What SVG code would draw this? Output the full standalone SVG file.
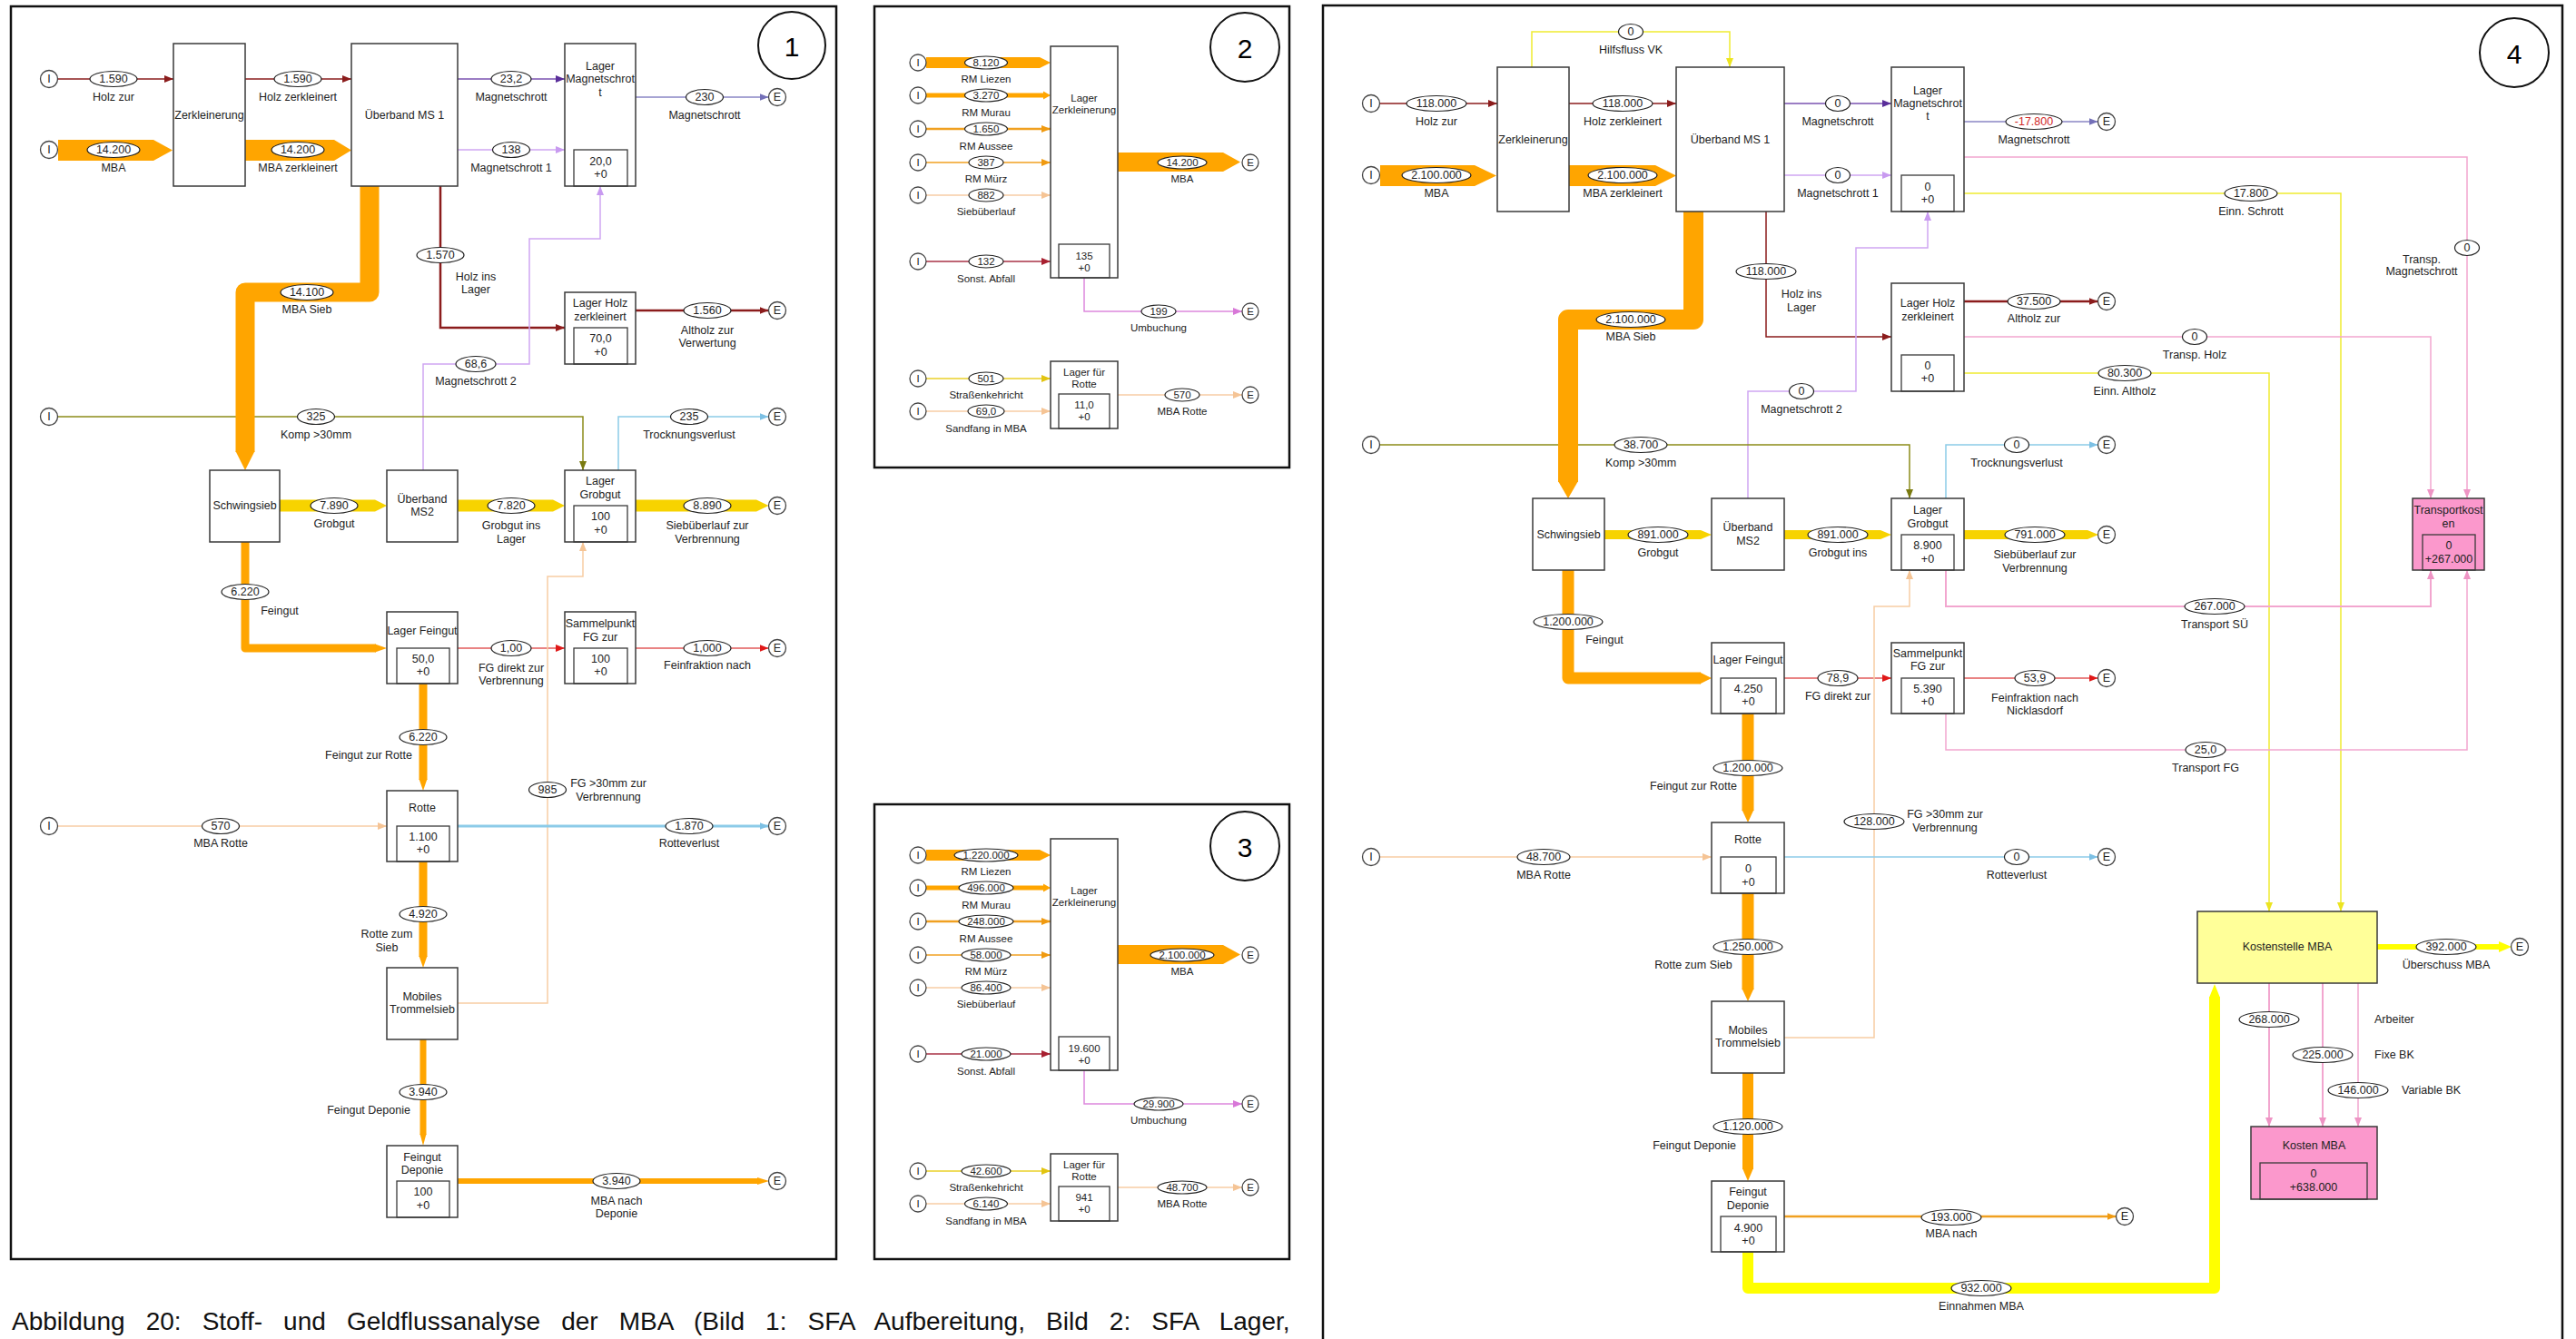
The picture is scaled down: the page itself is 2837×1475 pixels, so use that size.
<svg xmlns="http://www.w3.org/2000/svg" width="2837" height="1475" viewBox="0 0 2837 1475">
<style>
text{font-family:"Liberation Sans",Arial,sans-serif;fill:#222;text-anchor:middle;dominant-baseline:central}
.t{font-size:12.5px}
.s{font-size:11.5px}
.st{text-anchor:start}
.num{font-size:30px;fill:#000}
.cap{font-size:28px;text-anchor:start;dominant-baseline:auto;fill:#111;word-spacing:15.3px}
.frame{fill:none;stroke:#111;stroke-width:2.5}
.circ{fill:none;stroke:#111;stroke-width:2}
.box{fill:#fff;stroke:#3a3a3a;stroke-width:1.5}
.ybox{fill:#ffff99;stroke:#3a3a3a;stroke-width:1.5}
.pbox{fill:#fb98cc;stroke:#3a3a3a;stroke-width:1.5}
.in{fill:none;stroke:#3a3a3a;stroke-width:1.3}
.el{fill:#fff;stroke:#222;stroke-width:1.2}
.io{fill:#fff;stroke:#444;stroke-width:1.3}
.l{fill:none;stroke-width:1.5}
.dr{stroke:#8b1c1c}.pu{stroke:#7a52b0}.vi{stroke:#cfa6f2}.gb{stroke:#8a86c4}.ol{stroke:#8c8c1a}
.lb{stroke:#8ccbe8}.rd{stroke:#e25a5a}.pe{stroke:#f7cda4}.pk{stroke:#f2a6cf}.ye{stroke:#f0ec30}
.um{stroke:#dd88dd}.sy{stroke:#ead028}.sa{stroke:#a83246}.or{stroke:#f0a020}
.bo{fill:#ffa500}.bg{fill:#f7d300}.byl{fill:#ffff00}
.so{fill:none;stroke:#ffa500;stroke-linejoin:round}
.sy2{fill:none;stroke:#ffff00;stroke-linejoin:round}
</style>
<defs>
<marker id="a-dr" viewBox="0 0 10 8" refX="10" refY="4" markerWidth="10" markerHeight="8" markerUnits="userSpaceOnUse" orient="auto"><path d="M0,0L10,4L0,8z" fill="#8b1c1c"/></marker>
<marker id="a-pu" viewBox="0 0 10 8" refX="10" refY="4" markerWidth="10" markerHeight="8" markerUnits="userSpaceOnUse" orient="auto"><path d="M0,0L10,4L0,8z" fill="#5a2e9a"/></marker>
<marker id="a-vi" viewBox="0 0 10 8" refX="10" refY="4" markerWidth="10" markerHeight="8" markerUnits="userSpaceOnUse" orient="auto"><path d="M0,0L10,4L0,8z" fill="#c89af0"/></marker>
<marker id="a-gb" viewBox="0 0 10 8" refX="10" refY="4" markerWidth="10" markerHeight="8" markerUnits="userSpaceOnUse" orient="auto"><path d="M0,0L10,4L0,8z" fill="#7470b8"/></marker>
<marker id="a-ol" viewBox="0 0 10 8" refX="10" refY="4" markerWidth="10" markerHeight="8" markerUnits="userSpaceOnUse" orient="auto"><path d="M0,0L10,4L0,8z" fill="#7a7a10"/></marker>
<marker id="a-lb" viewBox="0 0 10 8" refX="10" refY="4" markerWidth="10" markerHeight="8" markerUnits="userSpaceOnUse" orient="auto"><path d="M0,0L10,4L0,8z" fill="#7cc0e4"/></marker>
<marker id="a-rd" viewBox="0 0 10 8" refX="10" refY="4" markerWidth="10" markerHeight="8" markerUnits="userSpaceOnUse" orient="auto"><path d="M0,0L10,4L0,8z" fill="#e01818"/></marker>
<marker id="a-pe" viewBox="0 0 10 8" refX="10" refY="4" markerWidth="10" markerHeight="8" markerUnits="userSpaceOnUse" orient="auto"><path d="M0,0L10,4L0,8z" fill="#f5c495"/></marker>
<marker id="a-pk" viewBox="0 0 10 8" refX="10" refY="4" markerWidth="10" markerHeight="8" markerUnits="userSpaceOnUse" orient="auto"><path d="M0,0L10,4L0,8z" fill="#ee94c4"/></marker>
<marker id="a-ye" viewBox="0 0 10 8" refX="10" refY="4" markerWidth="10" markerHeight="8" markerUnits="userSpaceOnUse" orient="auto"><path d="M0,0L10,4L0,8z" fill="#ece420"/></marker>
<marker id="a-um" viewBox="0 0 10 8" refX="10" refY="4" markerWidth="10" markerHeight="8" markerUnits="userSpaceOnUse" orient="auto"><path d="M0,0L10,4L0,8z" fill="#d878d8"/></marker>
<marker id="a-sy" viewBox="0 0 10 8" refX="10" refY="4" markerWidth="10" markerHeight="8" markerUnits="userSpaceOnUse" orient="auto"><path d="M0,0L10,4L0,8z" fill="#e2c410"/></marker>
<marker id="a-sa" viewBox="0 0 10 8" refX="10" refY="4" markerWidth="10" markerHeight="8" markerUnits="userSpaceOnUse" orient="auto"><path d="M0,0L10,4L0,8z" fill="#a82030"/></marker>
<marker id="a-or" viewBox="0 0 10 8" refX="10" refY="4" markerWidth="10" markerHeight="8" markerUnits="userSpaceOnUse" orient="auto"><path d="M0,0L10,4L0,8z" fill="#f09a10"/></marker>
</defs>
<rect width="2837" height="1475" fill="#fff"/>

<!-- frames -->
<rect class="frame" x="12" y="7" width="909" height="1380"/>
<rect class="frame" x="963" y="7" width="457" height="508"/>
<rect class="frame" x="963" y="886" width="457" height="501"/>
<path class="frame" d="M1457,1476V6H2822V1476"/>
<circle class="circ" cx="872" cy="50" r="37"/><text class="num" x="872" y="51">1</text>
<circle class="circ" cx="1371" cy="52" r="38"/><text class="num" x="1371" y="53">2</text>
<circle class="circ" cx="1371" cy="932" r="38"/><text class="num" x="1371" y="933">3</text>
<circle class="circ" cx="2769" cy="58" r="38"/><text class="num" x="2769" y="59">4</text>
<text class="cap" x="13" y="1465">Abbildung 20: Stoff- und Geldflussanalyse der MBA (Bild 1: SFA Aufbereitung, Bild 2: SFA Lager,</text>

<g id="connectors">
<!-- ===== Panel 1 thin lines ===== -->
<g class="lines">
<path class="l dr" d="M63.5,87H191" marker-end="url(#a-dr)"/>
<path class="l dr" d="M270,87H387" marker-end="url(#a-dr)"/>
<path class="l pu" d="M504,87H622" marker-end="url(#a-pu)"/>
<path class="l vi" d="M504,165H622" marker-end="url(#a-vi)"/>
<path class="l gb" d="M700,107H846.5" marker-end="url(#a-gb)"/>
<path class="l dr" style="stroke-width:2.5" d="M485,205V361H622" marker-end="url(#a-dr)"/>
<path class="l dr" style="stroke-width:2.5" d="M700,342H846.5" marker-end="url(#a-dr)"/>
<path class="l vi" d="M466,518V401H583V263H661V205" marker-end="url(#a-vi)"/>
<path class="l ol" d="M63.5,459H642V518" marker-end="url(#a-ol)"/>
<path class="l lb" d="M681,518V459H846.5" marker-end="url(#a-lb)"/>
<path class="l rd" d="M504,714H622" marker-end="url(#a-rd)"/>
<path class="l rd" d="M700,714H846.5" marker-end="url(#a-rd)"/>
<path class="l pe" d="M504,1105H603V635H642V597" marker-end="url(#a-pe)"/>
<path class="l pe" d="M63.5,910H426" marker-end="url(#a-pe)"/>
<path class="l lb" style="stroke-width:3" d="M504,910H846.5" marker-end="url(#a-lb)"/>
</g>
<!-- Panel 1 bands -->
<g class="bands">
<polygon class="bo" points="64,154 169,154 190,165.5 169,177 64,177"/>
<polygon class="bo" points="270,154 368,154 387,165.5 368,177 270,177"/>
<path class="so" style="stroke-width:21" d="M407,205V322H270V498"/>
<polygon class="bo" points="259.5,497 280.5,497 270,518"/>
<polygon class="bg" points="308,550.5 413,550.5 426,557 413,563.5 308,563.5"/>
<polygon class="bg" points="504,550.5 609,550.5 622,557 609,563.5 504,563.5"/>
<polygon class="bg" points="700,550.5 833,550.5 846.5,557 833,563.5 700,563.5"/>
<path class="so" style="stroke-width:9" d="M270,597V714H414"/>
<polygon class="bo" points="413,709.5 426,714 413,718.5"/>
<path class="so" style="stroke-width:9" d="M466,753V859"/>
<polygon class="bo" points="461.5,858 470.5,858 466,871"/>
<path class="so" style="stroke-width:9" d="M466,949V1054"/>
<polygon class="bo" points="461.5,1053 470.5,1053 466,1066"/>
<path class="so" style="stroke-width:7" d="M466,1145V1250"/>
<polygon class="bo" points="462.5,1249 469.5,1249 466,1262"/>
<polygon class="bo" points="504,1298 834,1298 834,1297 847,1301 834,1305 834,1304 504,1304"/>
</g>
<!-- Panel 1 labels -->
<g class="labels">
<ellipse class="el" cx="125" cy="87" rx="26" ry="8.5"/><text class="t" x="125" y="87">1.590</text><text class="t" x="125" y="107">Holz zur</text>
<ellipse class="el" cx="328" cy="87" rx="26" ry="8.5"/><text class="t" x="328" y="87">1.590</text><text class="t" x="328" y="107">Holz zerkleinert</text>
<ellipse class="el" cx="125" cy="165" rx="29" ry="8.5"/><text class="t" x="125" y="165">14.200</text><text class="t" x="125" y="185">MBA</text>
<ellipse class="el" cx="328" cy="165" rx="29" ry="8.5"/><text class="t" x="328" y="165">14.200</text><text class="t" x="328" y="185">MBA zerkleinert</text>
<ellipse class="el" cx="563" cy="87" rx="22" ry="8.5"/><text class="t" x="563" y="87">23,2</text><text class="t" x="563" y="107">Magnetschrott</text>
<ellipse class="el" cx="563" cy="165" rx="20.5" ry="8.5"/><text class="t" x="563" y="165">138</text><text class="t" x="563" y="185">Magnetschrott 1</text>
<ellipse class="el" cx="776" cy="107" rx="20.5" ry="8.5"/><text class="t" x="776" y="107">230</text><text class="t" x="776" y="127">Magnetschrott</text>
<ellipse class="el" cx="485" cy="281" rx="26" ry="8.5"/><text class="t" x="485" y="281">1.570</text><text class="t" x="524" y="305">Holz ins</text><text class="t" x="524" y="319">Lager</text>
<ellipse class="el" cx="779" cy="342" rx="26" ry="8.5"/><text class="t" x="779" y="342">1.560</text><text class="t" x="779" y="364">Altholz zur</text><text class="t" x="779" y="378">Verwertung</text>
<ellipse class="el" cx="338" cy="322" rx="29" ry="8.5"/><text class="t" x="338" y="322">14.100</text><text class="t" x="338" y="341">MBA Sieb</text>
<ellipse class="el" cx="524" cy="401" rx="22" ry="8.5"/><text class="t" x="524" y="401">68,6</text><text class="t" x="524" y="420">Magnetschrott 2</text>
<ellipse class="el" cx="348" cy="459" rx="20.5" ry="8.5"/><text class="t" x="348" y="459">325</text><text class="t" x="348" y="479">Komp &gt;30mm</text>
<ellipse class="el" cx="759" cy="459" rx="20.5" ry="8.5"/><text class="t" x="759" y="459">235</text><text class="t" x="759" y="479">Trocknungsverlust</text>
<ellipse class="el" cx="368" cy="557" rx="26" ry="8.5"/><text class="t" x="368" y="557">7.890</text><text class="t" x="368" y="577">Grobgut</text>
<ellipse class="el" cx="563" cy="557" rx="26" ry="8.5"/><text class="t" x="563" y="557">7.820</text><text class="t" x="563" y="579">Grobgut ins</text><text class="t" x="563" y="594">Lager</text>
<ellipse class="el" cx="779" cy="557" rx="26" ry="8.5"/><text class="t" x="779" y="557">8.890</text><text class="t" x="779" y="579">Siebüberlauf zur</text><text class="t" x="779" y="594">Verbrennung</text>
<ellipse class="el" cx="270" cy="652" rx="26" ry="8.5"/><text class="t" x="270" y="652">6.220</text><text class="t" x="308" y="673">Feingut</text>
<ellipse class="el" cx="563" cy="714" rx="22" ry="8.5"/><text class="t" x="563" y="714">1,00</text><text class="t" x="563" y="736">FG direkt zur</text><text class="t" x="563" y="750">Verbrennung</text>
<ellipse class="el" cx="779" cy="714" rx="26" ry="8.5"/><text class="t" x="779" y="714">1,000</text><text class="t" x="779" y="733">Feinfraktion nach</text>
<ellipse class="el" cx="466" cy="812" rx="26" ry="8.5"/><text class="t" x="466" y="812">6.220</text><text class="t" x="406" y="832">Feingut zur Rotte</text>
<ellipse class="el" cx="603" cy="870" rx="20.5" ry="8.5"/><text class="t" x="603" y="870">985</text><text class="t" x="670" y="863">FG &gt;30mm zur</text><text class="t" x="670" y="878">Verbrennung</text>
<ellipse class="el" cx="243" cy="910" rx="20.5" ry="8.5"/><text class="t" x="243" y="910">570</text><text class="t" x="243" y="929">MBA Rotte</text>
<ellipse class="el" cx="759" cy="910" rx="26" ry="8.5"/><text class="t" x="759" y="910">1.870</text><text class="t" x="759" y="929">Rotteverlust</text>
<ellipse class="el" cx="466" cy="1007" rx="26" ry="8.5"/><text class="t" x="466" y="1007">4.920</text><text class="t" x="426" y="1029">Rotte zum</text><text class="t" x="426" y="1044">Sieb</text>
<ellipse class="el" cx="466" cy="1203" rx="26" ry="8.5"/><text class="t" x="466" y="1203">3.940</text><text class="t" x="406" y="1223">Feingut Deponie</text>
<ellipse class="el" cx="679" cy="1301" rx="26" ry="8.5"/><text class="t" x="679" y="1301">3.940</text><text class="t" x="679" y="1323">MBA nach</text><text class="t" x="679" y="1337">Deponie</text>
</g>

<!-- ===== Panel 2 ===== -->
<g class="lines">
<polygon class="bo" points="1020,63 1145,63 1157,69 1145,75 1020,75"/>
<path class="l" style="stroke:#ffa500;stroke-width:5" d="M1020,105H1149"/><polygon class="bo" points="1149,100.5 1157,105 1149,109.5"/>
<path class="l or" style="stroke-width:2.5" d="M1020,142H1157" marker-end="url(#a-or)"/>
<path class="l or" d="M1020,179H1157" marker-end="url(#a-or)"/>
<path class="l pe" d="M1020,215H1157" marker-end="url(#a-pe)"/>
<path class="l sa" d="M1020,288H1157" marker-end="url(#a-sa)"/>
<polygon class="bo" points="1231,168 1347,168 1366,178.5 1347,189 1231,189"/>
<path class="l um" d="M1194,306V343H1368" marker-end="url(#a-um)"/>
<path class="l sy" d="M1020,417H1157" marker-end="url(#a-sy)"/>
<path class="l pe" d="M1020,453H1157" marker-end="url(#a-pe)"/>
<path class="l pe" d="M1231,435H1368" marker-end="url(#a-pe)"/>
</g>
<g class="labels">
<ellipse class="el" cx="1086" cy="69" rx="23.5" ry="7"/><text class="s" x="1086" y="69">8.120</text><text class="s" x="1086" y="87">RM Liezen</text>
<ellipse class="el" cx="1086" cy="105" rx="23.5" ry="7"/><text class="s" x="1086" y="105">3.270</text><text class="s" x="1086" y="124">RM Murau</text>
<ellipse class="el" cx="1086" cy="142" rx="23.5" ry="7"/><text class="s" x="1086" y="142">1.650</text><text class="s" x="1086" y="161">RM Aussee</text>
<ellipse class="el" cx="1086" cy="179" rx="19" ry="7"/><text class="s" x="1086" y="179">387</text><text class="s" x="1086" y="197">RM Mürz</text>
<ellipse class="el" cx="1086" cy="215" rx="19" ry="7"/><text class="s" x="1086" y="215">882</text><text class="s" x="1086" y="233">Siebüberlauf</text>
<ellipse class="el" cx="1086" cy="288" rx="19" ry="7"/><text class="s" x="1086" y="288">132</text><text class="s" x="1086" y="307">Sonst. Abfall</text>
<ellipse class="el" cx="1302" cy="179" rx="27" ry="7"/><text class="s" x="1302" y="179">14.200</text><text class="s" x="1302" y="197">MBA</text>
<ellipse class="el" cx="1276" cy="343" rx="19" ry="7"/><text class="s" x="1276" y="343">199</text><text class="s" x="1276" y="361">Umbuchung</text>
<ellipse class="el" cx="1086" cy="417" rx="19" ry="7"/><text class="s" x="1086" y="417">501</text><text class="s" x="1086" y="435">Straßenkehricht</text>
<ellipse class="el" cx="1086" cy="453" rx="20" ry="7"/><text class="s" x="1086" y="453">69,0</text><text class="s" x="1086" y="472">Sandfang in MBA</text>
<ellipse class="el" cx="1302" cy="435" rx="19" ry="7"/><text class="s" x="1302" y="435">570</text><text class="s" x="1302" y="453">MBA Rotte</text>
</g>

<!-- ===== Panel 3 ===== -->
<g class="lines" transform="translate(0,873)">
<polygon class="bo" points="1020,63 1145,63 1157,69 1145,75 1020,75"/>
<path class="l" style="stroke:#ffa500;stroke-width:5" d="M1020,105H1149"/><polygon class="bo" points="1149,100.5 1157,105 1149,109.5"/>
<path class="l or" style="stroke-width:2.5" d="M1020,142H1157" marker-end="url(#a-or)"/>
<path class="l or" d="M1020,179H1157" marker-end="url(#a-or)"/>
<path class="l pe" d="M1020,215H1157" marker-end="url(#a-pe)"/>
<path class="l sa" d="M1020,288H1157" marker-end="url(#a-sa)"/>
<polygon class="bo" points="1231,168 1347,168 1366,178.5 1347,189 1231,189"/>
<path class="l um" d="M1194,306V343H1368" marker-end="url(#a-um)"/>
<path class="l sy" d="M1020,417H1157" marker-end="url(#a-sy)"/>
<path class="l pe" d="M1020,453H1157" marker-end="url(#a-pe)"/>
<path class="l pe" d="M1231,435H1368" marker-end="url(#a-pe)"/>
</g>
<g class="labels" transform="translate(0,873)">
<ellipse class="el" cx="1086" cy="69" rx="35" ry="7"/><text class="s" x="1086" y="69">1.220.000</text><text class="s" x="1086" y="87">RM Liezen</text>
<ellipse class="el" cx="1086" cy="105" rx="30" ry="7"/><text class="s" x="1086" y="105">496.000</text><text class="s" x="1086" y="124">RM Murau</text>
<ellipse class="el" cx="1086" cy="142" rx="30" ry="7"/><text class="s" x="1086" y="142">248.000</text><text class="s" x="1086" y="161">RM Aussee</text>
<ellipse class="el" cx="1086" cy="179" rx="27" ry="7"/><text class="s" x="1086" y="179">58.000</text><text class="s" x="1086" y="197">RM Mürz</text>
<ellipse class="el" cx="1086" cy="215" rx="27" ry="7"/><text class="s" x="1086" y="215">86.400</text><text class="s" x="1086" y="233">Siebüberlauf</text>
<ellipse class="el" cx="1086" cy="288" rx="27" ry="7"/><text class="s" x="1086" y="288">21.000</text><text class="s" x="1086" y="307">Sonst. Abfall</text>
<ellipse class="el" cx="1302" cy="179" rx="35" ry="7"/><text class="s" x="1302" y="179">2.100.000</text><text class="s" x="1302" y="197">MBA</text>
<ellipse class="el" cx="1276" cy="343" rx="27" ry="7"/><text class="s" x="1276" y="343">29.900</text><text class="s" x="1276" y="361">Umbuchung</text>
<ellipse class="el" cx="1086" cy="417" rx="27" ry="7"/><text class="s" x="1086" y="417">42.600</text><text class="s" x="1086" y="435">Straßenkehricht</text>
<ellipse class="el" cx="1086" cy="453" rx="23.5" ry="7"/><text class="s" x="1086" y="453">6.140</text><text class="s" x="1086" y="472">Sandfang in MBA</text>
<ellipse class="el" cx="1302" cy="435" rx="27" ry="7"/><text class="s" x="1302" y="435">48.700</text><text class="s" x="1302" y="453">MBA Rotte</text>
</g>

<!-- ===== Panel 4 thin lines ===== -->
<g class="lines">
<path class="l dr" d="M1519.5,114H1649" marker-end="url(#a-dr)"/>
<path class="l dr" d="M1728,114H1846" marker-end="url(#a-dr)"/>
<path class="l ye" d="M1687,74V35H1905V74" marker-end="url(#a-ye)"/>
<path class="l pu" d="M1965,114H2083" marker-end="url(#a-pu)"/>
<path class="l vi" d="M1965,193H2083" marker-end="url(#a-vi)"/>
<path class="l gb" d="M2163,134H2310.5" marker-end="url(#a-gb)"/>
<path class="l pk" d="M2163,173H2717V549" marker-end="url(#a-pk)"/>
<path class="l ye" d="M2163,213H2578V1004" marker-end="url(#a-ye)"/>
<path class="l dr" d="M1945,233V371H2083" marker-end="url(#a-dr)"/>
<path class="l vi" d="M1925,549V431H2044V273H2123V233" marker-end="url(#a-vi)"/>
<path class="l dr" style="stroke-width:2.5" d="M2163,332H2310.5" marker-end="url(#a-dr)"/>
<path class="l pk" d="M2163,371H2677V549" marker-end="url(#a-pk)"/>
<path class="l ye" d="M2163,411H2499V1004" marker-end="url(#a-ye)"/>
<path class="l ol" d="M1519.5,490H2103V549" marker-end="url(#a-ol)"/>
<path class="l lb" d="M2143,549V490H2310.5" marker-end="url(#a-lb)"/>
<path class="l pk" style="stroke-width:2" d="M2143,628V668H2677V628" marker-end="url(#a-pk)"/>
<path class="l rd" d="M1965,747H2083" marker-end="url(#a-rd)"/>
<path class="l rd" d="M2163,747H2310.5" marker-end="url(#a-rd)"/>
<path class="l pk" d="M2143,786V826H2717V628" marker-end="url(#a-pk)"/>
<path class="l pe" d="M1965,1143H2064V668H2103V628" marker-end="url(#a-pe)"/>
<path class="l pe" d="M1519.5,944H1885" marker-end="url(#a-pe)"/>
<path class="l lb" d="M1965,944H2310.5" marker-end="url(#a-lb)"/>
<path class="l or" style="stroke-width:2.5" d="M1965,1340H2330.5" marker-end="url(#a-or)"/>
<path class="l pk" style="stroke-width:2" d="M2499,1083V1241" marker-end="url(#a-pk)"/>
<path class="l pk" style="stroke-width:2" d="M2558,1083V1241" marker-end="url(#a-pk)"/>
<path class="l pk" d="M2597,1083V1241" marker-end="url(#a-pk)"/>
</g>
<g class="bands">
<polygon class="bo" points="1520,182 1624,182 1648,193.5 1624,205 1520,205"/>
<polygon class="bo" points="1728,182 1823,182 1846,193.5 1823,205 1728,205"/>
<path class="so" style="stroke-width:22" d="M1865,233V352H1727V531"/>
<polygon class="bo" points="1716,530 1738,530 1727,549"/>
<polygon class="bg" points="1767,584 1873,584 1885,589 1873,594 1767,594"/>
<polygon class="bg" points="1965,584 2071,584 2083,589 2071,594 1965,594"/>
<polygon class="bg" points="2163,584 2299,584 2311,589 2299,594 2163,594"/>
<path class="so" style="stroke-width:13" d="M1727,628V747H1873"/>
<polygon class="bo" points="1872,740.5 1885,747 1872,753.5"/>
<path class="so" style="stroke-width:13" d="M1925,786V893"/>
<polygon class="bo" points="1918.5,892 1931.5,892 1925,906"/>
<path class="so" style="stroke-width:13" d="M1925,984V1090"/>
<polygon class="bo" points="1918.5,1089 1931.5,1089 1925,1103"/>
<path class="so" style="stroke-width:12" d="M1925,1182V1288"/>
<polygon class="bo" points="1919,1287 1931,1287 1925,1301"/>
<path class="sy2" style="stroke-width:12" d="M1925,1379V1419H2439V1098"/>
<polygon class="byl" points="2433,1099 2445,1099 2439,1084"/>
<polygon class="byl" points="2618,1040 2752,1040 2752,1037 2766,1043 2752,1049 2752,1046 2618,1046"/>
</g>
<g class="labels">
<ellipse class="el" cx="1582" cy="114" rx="33" ry="8.5"/><text class="t" x="1582" y="114">118.000</text><text class="t" x="1582" y="134">Holz zur</text>
<ellipse class="el" cx="1787" cy="114" rx="33" ry="8.5"/><text class="t" x="1787" y="114">118.000</text><text class="t" x="1787" y="134">Holz zerkleinert</text>
<ellipse class="el" cx="1582" cy="193" rx="38" ry="8.5"/><text class="t" x="1582" y="193">2.100.000</text><text class="t" x="1582" y="213">MBA</text>
<ellipse class="el" cx="1787" cy="193" rx="38" ry="8.5"/><text class="t" x="1787" y="193">2.100.000</text><text class="t" x="1787" y="213">MBA zerkleinert</text>
<ellipse class="el" cx="1796" cy="35" rx="13.5" ry="8.5"/><text class="t" x="1796" y="35">0</text><text class="t" x="1796" y="55">Hilfsfluss VK</text>
<ellipse class="el" cx="2024" cy="114" rx="13.5" ry="8.5"/><text class="t" x="2024" y="114">0</text><text class="t" x="2024" y="134">Magnetschrott</text>
<ellipse class="el" cx="2024" cy="193" rx="13.5" ry="8.5"/><text class="t" x="2024" y="193">0</text><text class="t" x="2024" y="213">Magnetschrott 1</text>
<ellipse class="el" cx="2240" cy="134" rx="31" ry="8.5"/><text class="t" x="2240" y="134" style="fill:#d02828">-17.800</text><text class="t" x="2240" y="154">Magnetschrott</text>
<ellipse class="el" cx="2717" cy="273" rx="13.5" ry="8.5"/><text class="t" x="2717" y="273">0</text><text class="t" x="2667" y="286">Transp.</text><text class="t" x="2667" y="299">Magnetschrott</text>
<ellipse class="el" cx="2479" cy="213" rx="29" ry="8.5"/><text class="t" x="2479" y="213">17.800</text><text class="t" x="2479" y="233">Einn. Schrott</text>
<ellipse class="el" cx="1945" cy="299" rx="33" ry="8.5"/><text class="t" x="1945" y="299">118.000</text><text class="t" x="1984" y="324">Holz ins</text><text class="t" x="1984" y="339">Lager</text>
<ellipse class="el" cx="1796" cy="352" rx="38" ry="8.5"/><text class="t" x="1796" y="352">2.100.000</text><text class="t" x="1796" y="371">MBA Sieb</text>
<ellipse class="el" cx="1984" cy="431" rx="13.5" ry="8.5"/><text class="t" x="1984" y="431">0</text><text class="t" x="1984" y="451">Magnetschrott 2</text>
<ellipse class="el" cx="2240" cy="332" rx="29" ry="8.5"/><text class="t" x="2240" y="332">37.500</text><text class="t" x="2240" y="351">Altholz zur</text>
<ellipse class="el" cx="2417" cy="371" rx="13.5" ry="8.5"/><text class="t" x="2417" y="371">0</text><text class="t" x="2417" y="391">Transp. Holz</text>
<ellipse class="el" cx="2340" cy="411" rx="29" ry="8.5"/><text class="t" x="2340" y="411">80.300</text><text class="t" x="2340" y="431">Einn. Altholz</text>
<ellipse class="el" cx="1807" cy="490" rx="29" ry="8.5"/><text class="t" x="1807" y="490">38.700</text><text class="t" x="1807" y="510">Komp &gt;30mm</text>
<ellipse class="el" cx="2221" cy="490" rx="13.5" ry="8.5"/><text class="t" x="2221" y="490">0</text><text class="t" x="2221" y="510">Trocknungsverlust</text>
<ellipse class="el" cx="1826" cy="589" rx="33" ry="8.5"/><text class="t" x="1826" y="589">891.000</text><text class="t" x="1826" y="609">Grobgut</text>
<ellipse class="el" cx="2024" cy="589" rx="33" ry="8.5"/><text class="t" x="2024" y="589">891.000</text><text class="t" x="2024" y="609">Grobgut ins</text>
<ellipse class="el" cx="2241" cy="589" rx="33" ry="8.5"/><text class="t" x="2241" y="589">791.000</text><text class="t" x="2241" y="611">Siebüberlauf zur</text><text class="t" x="2241" y="626">Verbrennung</text>
<ellipse class="el" cx="2439" cy="668" rx="33" ry="8.5"/><text class="t" x="2439" y="668">267.000</text><text class="t" x="2439" y="688">Transport SÜ</text>
<ellipse class="el" cx="1727" cy="685" rx="38" ry="8.5"/><text class="t" x="1727" y="685">1.200.000</text><text class="t" x="1767" y="705">Feingut</text>
<ellipse class="el" cx="2024" cy="747" rx="22" ry="8.5"/><text class="t" x="2024" y="747">78,9</text><text class="t" x="2024" y="767">FG direkt zur</text>
<ellipse class="el" cx="2241" cy="747" rx="22" ry="8.5"/><text class="t" x="2241" y="747">53,9</text><text class="t" x="2241" y="769">Feinfraktion nach</text><text class="t" x="2241" y="783">Nicklasdorf</text>
<ellipse class="el" cx="2429" cy="826" rx="22" ry="8.5"/><text class="t" x="2429" y="826">25,0</text><text class="t" x="2429" y="846">Transport FG</text>
<ellipse class="el" cx="1925" cy="846" rx="38" ry="8.5"/><text class="t" x="1925" y="846">1.200.000</text><text class="t" x="1865" y="866">Feingut zur Rotte</text>
<ellipse class="el" cx="2064" cy="905" rx="33" ry="8.5"/><text class="t" x="2064" y="905">128.000</text><text class="t" x="2142" y="897">FG &gt;30mm zur</text><text class="t" x="2142" y="912">Verbrennung</text>
<ellipse class="el" cx="1700" cy="944" rx="29" ry="8.5"/><text class="t" x="1700" y="944">48.700</text><text class="t" x="1700" y="964">MBA Rotte</text>
<ellipse class="el" cx="2221" cy="944" rx="13.5" ry="8.5"/><text class="t" x="2221" y="944">0</text><text class="t" x="2221" y="964">Rotteverlust</text>
<ellipse class="el" cx="1925" cy="1043" rx="38" ry="8.5"/><text class="t" x="1925" y="1043">1.250.000</text><text class="t" x="1865" y="1063">Rotte zum Sieb</text>
<ellipse class="el" cx="1925" cy="1241" rx="38" ry="8.5"/><text class="t" x="1925" y="1241">1.120.000</text><text class="t" x="1866" y="1262">Feingut Deponie</text>
<ellipse class="el" cx="2149" cy="1341" rx="33" ry="8.5"/><text class="t" x="2149" y="1341">193.000</text><text class="t" x="2149" y="1359">MBA nach</text>
<ellipse class="el" cx="2182" cy="1419" rx="33" ry="8.5"/><text class="t" x="2182" y="1419">932.000</text><text class="t" x="2182" y="1439">Einnahmen MBA</text>
<ellipse class="el" cx="2694" cy="1043" rx="33" ry="8.5"/><text class="t" x="2694" y="1043">392.000</text><text class="t" x="2694" y="1063">Überschuss MBA</text>
<ellipse class="el" cx="2499" cy="1123" rx="33" ry="8.5"/><text class="t" x="2499" y="1123">268.000</text><text class="t st" x="2615" y="1123">Arbeiter</text>
<ellipse class="el" cx="2558" cy="1162" rx="33" ry="8.5"/><text class="t" x="2558" y="1162">225.000</text><text class="t st" x="2615" y="1162">Fixe BK</text>
<ellipse class="el" cx="2597" cy="1201" rx="33" ry="8.5"/><text class="t" x="2597" y="1201">146.000</text><text class="t st" x="2645" y="1201">Variable BK</text>
</g>
</g>

<!-- ===== Panel 1 nodes ===== -->
<g id="p1-in-holz"><circle class="io" cx="54" cy="87" r="9.5"/><text class="t" x="54" y="87">I</text></g>
<g id="p1-in-mba"><circle class="io" cx="54" cy="165" r="9.5"/><text class="t" x="54" y="165">I</text></g>
<g id="p1-in-komp"><circle class="io" cx="54" cy="459" r="9.5"/><text class="t" x="54" y="459">I</text></g>
<g id="p1-in-rotte"><circle class="io" cx="54" cy="910" r="9.5"/><text class="t" x="54" y="910">I</text></g>
<g id="p1-out-1"><circle class="io" cx="856" cy="107" r="9.5"/><text class="t" x="856" y="107">E</text></g>
<g id="p1-out-2"><circle class="io" cx="856" cy="342" r="9.5"/><text class="t" x="856" y="342">E</text></g>
<g id="p1-out-3"><circle class="io" cx="856" cy="459" r="9.5"/><text class="t" x="856" y="459">E</text></g>
<g id="p1-out-4"><circle class="io" cx="856" cy="557" r="9.5"/><text class="t" x="856" y="557">E</text></g>
<g id="p1-out-5"><circle class="io" cx="856" cy="714" r="9.5"/><text class="t" x="856" y="714">E</text></g>
<g id="p1-out-6"><circle class="io" cx="856" cy="910" r="9.5"/><text class="t" x="856" y="910">E</text></g>
<g id="p1-out-7"><circle class="io" cx="856" cy="1301" r="9.5"/><text class="t" x="856" y="1301">E</text></g>
<g id="p1-zerkleinerung"><rect class="box" x="191" y="48" width="79" height="157"/><text class="t" x="230.5" y="127">Zerkleinerung</text></g>
<g id="p1-ueberband-ms1"><rect class="box" x="387" y="48" width="117" height="157"/><text class="t" x="445.5" y="127">Überband MS 1</text></g>
<g id="p1-lager-magnetschrott"><rect class="box" x="622" y="48" width="78" height="157"/><rect class="in" x="632" y="165" width="59" height="40"/><text class="t" x="661" y="73">Lager</text><text class="t" x="661" y="87">Magnetschrot</text><text class="t" x="661" y="102">t</text><text class="t" x="661.5" y="178">20,0</text><text class="t" x="661.5" y="192">+0</text></g>
<g id="p1-lager-holz"><rect class="box" x="622" y="322" width="78" height="79"/><rect class="in" x="632" y="361" width="59" height="40"/><text class="t" x="661" y="334">Lager Holz</text><text class="t" x="661" y="349">zerkleinert</text><text class="t" x="661.5" y="373">70,0</text><text class="t" x="661.5" y="388">+0</text></g>
<g id="p1-schwingsieb"><rect class="box" x="231" y="518" width="77" height="79"/><text class="t" x="269.5" y="557">Schwingsieb</text></g>
<g id="p1-ueberband-ms2"><rect class="box" x="426" y="518" width="78" height="79"/><text class="t" x="465" y="550">Überband</text><text class="t" x="465" y="564">MS2</text></g>
<g id="p1-lager-grobgut"><rect class="box" x="622" y="518" width="78" height="79"/><rect class="in" x="632" y="557" width="59" height="40"/><text class="t" x="661" y="530">Lager</text><text class="t" x="661" y="545">Grobgut</text><text class="t" x="661.5" y="569">100</text><text class="t" x="661.5" y="584">+0</text></g>
<g id="p1-lager-feingut"><rect class="box" x="426" y="674" width="78" height="79"/><rect class="in" x="437" y="714" width="58" height="39"/><text class="t" x="465" y="695">Lager Feingut</text><text class="t" x="466" y="726">50,0</text><text class="t" x="466" y="740">+0</text></g>
<g id="p1-sammelpunkt"><rect class="box" x="622" y="674" width="78" height="79"/><rect class="in" x="632" y="714" width="59" height="39"/><text class="t" x="661" y="687">Sammelpunkt</text><text class="t" x="661" y="702">FG zur</text><text class="t" x="661.5" y="726">100</text><text class="t" x="661.5" y="740">+0</text></g>
<g id="p1-rotte"><rect class="box" x="426" y="871" width="78" height="78"/><rect class="in" x="437" y="910" width="58" height="39"/><text class="t" x="465" y="890">Rotte</text><text class="t" x="466" y="922">1.100</text><text class="t" x="466" y="936">+0</text></g>
<g id="p1-trommelsieb"><rect class="box" x="426" y="1066" width="78" height="79"/><text class="t" x="465" y="1098">Mobiles</text><text class="t" x="465" y="1112">Trommelsieb</text></g>
<g id="p1-feingut-deponie"><rect class="box" x="426" y="1262" width="78" height="79"/><rect class="in" x="437" y="1301" width="58" height="40"/><text class="t" x="465" y="1275">Feingut</text><text class="t" x="465" y="1289">Deponie</text><text class="t" x="466" y="1313">100</text><text class="t" x="466" y="1328">+0</text></g>

<!-- ===== Panel 2 nodes ===== -->
<g id="p2-inputs">
<circle class="io" cx="1011" cy="69" r="9"/><text class="s" x="1011" y="69">I</text>
<circle class="io" cx="1011" cy="105" r="9"/><text class="s" x="1011" y="105">I</text>
<circle class="io" cx="1011" cy="142" r="9"/><text class="s" x="1011" y="142">I</text>
<circle class="io" cx="1011" cy="179" r="9"/><text class="s" x="1011" y="179">I</text>
<circle class="io" cx="1011" cy="215" r="9"/><text class="s" x="1011" y="215">I</text>
<circle class="io" cx="1011" cy="288" r="9"/><text class="s" x="1011" y="288">I</text>
<circle class="io" cx="1011" cy="417" r="9"/><text class="s" x="1011" y="417">I</text>
<circle class="io" cx="1011" cy="453" r="9"/><text class="s" x="1011" y="453">I</text>
</g>
<g id="p2-outputs">
<circle class="io" cx="1377" cy="179" r="9"/><text class="s" x="1377" y="179">E</text>
<circle class="io" cx="1377" cy="343" r="9"/><text class="s" x="1377" y="343">E</text>
<circle class="io" cx="1377" cy="435" r="9"/><text class="s" x="1377" y="435">E</text>
</g>
<g id="p2-lager-zerkleinerung"><rect class="box" x="1157" y="51" width="74" height="255"/><rect class="in" x="1166" y="269" width="56" height="37"/><text class="s" x="1194" y="108">Lager</text><text class="s" x="1194" y="121">Zerkleinerung</text><text class="s" x="1194" y="282">135</text><text class="s" x="1194" y="295">+0</text></g>
<g id="p2-lager-rotte"><rect class="box" x="1157" y="398" width="74" height="74"/><rect class="in" x="1166" y="434" width="56" height="38"/><text class="s" x="1194" y="410">Lager für</text><text class="s" x="1194" y="423">Rotte</text><text class="s" x="1194" y="446">11,0</text><text class="s" x="1194" y="459">+0</text></g>

<!-- ===== Panel 3 nodes ===== -->
<g id="p3-inputs" transform="translate(0,873)">
<circle class="io" cx="1011" cy="69" r="9"/><text class="s" x="1011" y="69">I</text>
<circle class="io" cx="1011" cy="105" r="9"/><text class="s" x="1011" y="105">I</text>
<circle class="io" cx="1011" cy="142" r="9"/><text class="s" x="1011" y="142">I</text>
<circle class="io" cx="1011" cy="179" r="9"/><text class="s" x="1011" y="179">I</text>
<circle class="io" cx="1011" cy="215" r="9"/><text class="s" x="1011" y="215">I</text>
<circle class="io" cx="1011" cy="288" r="9"/><text class="s" x="1011" y="288">I</text>
<circle class="io" cx="1011" cy="417" r="9"/><text class="s" x="1011" y="417">I</text>
<circle class="io" cx="1011" cy="453" r="9"/><text class="s" x="1011" y="453">I</text>
</g>
<g id="p3-outputs" transform="translate(0,873)">
<circle class="io" cx="1377" cy="179" r="9"/><text class="s" x="1377" y="179">E</text>
<circle class="io" cx="1377" cy="343" r="9"/><text class="s" x="1377" y="343">E</text>
<circle class="io" cx="1377" cy="435" r="9"/><text class="s" x="1377" y="435">E</text>
</g>
<g id="p3-lager-zerkleinerung" transform="translate(0,873)"><rect class="box" x="1157" y="51" width="74" height="255"/><rect class="in" x="1166" y="269" width="56" height="37"/><text class="s" x="1194" y="108">Lager</text><text class="s" x="1194" y="121">Zerkleinerung</text><text class="s" x="1194" y="282">19.600</text><text class="s" x="1194" y="295">+0</text></g>
<g id="p3-lager-rotte" transform="translate(0,873)"><rect class="box" x="1157" y="398" width="74" height="74"/><rect class="in" x="1166" y="434" width="56" height="38"/><text class="s" x="1194" y="410">Lager für</text><text class="s" x="1194" y="423">Rotte</text><text class="s" x="1194" y="446">941</text><text class="s" x="1194" y="459">+0</text></g>

<!-- ===== Panel 4 nodes ===== -->
<g id="p4-inputs">
<circle class="io" cx="1510" cy="114" r="9.5"/><text class="t" x="1510" y="114">I</text>
<circle class="io" cx="1510" cy="193" r="9.5"/><text class="t" x="1510" y="193">I</text>
<circle class="io" cx="1510" cy="490" r="9.5"/><text class="t" x="1510" y="490">I</text>
<circle class="io" cx="1510" cy="944" r="9.5"/><text class="t" x="1510" y="944">I</text>
</g>
<g id="p4-outputs">
<circle class="io" cx="2320" cy="134" r="9.5"/><text class="t" x="2320" y="134">E</text>
<circle class="io" cx="2320" cy="332" r="9.5"/><text class="t" x="2320" y="332">E</text>
<circle class="io" cx="2320" cy="490" r="9.5"/><text class="t" x="2320" y="490">E</text>
<circle class="io" cx="2320" cy="589" r="9.5"/><text class="t" x="2320" y="589">E</text>
<circle class="io" cx="2320" cy="747" r="9.5"/><text class="t" x="2320" y="747">E</text>
<circle class="io" cx="2320" cy="944" r="9.5"/><text class="t" x="2320" y="944">E</text>
<circle class="io" cx="2340" cy="1340" r="9.5"/><text class="t" x="2340" y="1340">E</text>
<circle class="io" cx="2775" cy="1043" r="9.5"/><text class="t" x="2775" y="1043">E</text>
</g>
<g id="p4-zerkleinerung"><rect class="box" x="1649" y="74" width="79" height="159"/><text class="t" x="1688.5" y="154">Zerkleinerung</text></g>
<g id="p4-ueberband-ms1"><rect class="box" x="1846" y="74" width="119" height="159"/><text class="t" x="1905.5" y="154">Überband MS 1</text></g>
<g id="p4-lager-magnetschrott"><rect class="box" x="2083" y="74" width="80" height="159"/><rect class="in" x="2094" y="193" width="58" height="40"/><text class="t" x="2123" y="100">Lager</text><text class="t" x="2123" y="114">Magnetschrot</text><text class="t" x="2123" y="128">t</text><text class="t" x="2123" y="206">0</text><text class="t" x="2123" y="220">+0</text></g>
<g id="p4-lager-holz"><rect class="box" x="2083" y="312" width="80" height="119"/><rect class="in" x="2094" y="391" width="58" height="40"/><text class="t" x="2123" y="334">Lager Holz</text><text class="t" x="2123" y="349">zerkleinert</text><text class="t" x="2123" y="403">0</text><text class="t" x="2123" y="417">+0</text></g>
<g id="p4-schwingsieb"><rect class="box" x="1688" y="549" width="79" height="79"/><text class="t" x="1727.5" y="589">Schwingsieb</text></g>
<g id="p4-ueberband-ms2"><rect class="box" x="1885" y="549" width="80" height="79"/><text class="t" x="1925" y="581">Überband</text><text class="t" x="1925" y="596">MS2</text></g>
<g id="p4-lager-grobgut"><rect class="box" x="2083" y="549" width="80" height="79"/><rect class="in" x="2094" y="589" width="58" height="39"/><text class="t" x="2123" y="562">Lager</text><text class="t" x="2123" y="577">Grobgut</text><text class="t" x="2123" y="601">8.900</text><text class="t" x="2123" y="616">+0</text></g>
<g id="p4-transportkosten"><rect class="pbox" x="2657" y="549" width="79" height="79"/><rect class="in" x="2668" y="589" width="58" height="39"/><text class="t" x="2696.5" y="562">Transportkost</text><text class="t" x="2696.5" y="577">en</text><text class="t" x="2697" y="601">0</text><text class="t" x="2697" y="616">+267.000</text></g>
<g id="p4-lager-feingut"><rect class="box" x="1885" y="708" width="80" height="78"/><rect class="in" x="1895" y="747" width="61" height="39"/><text class="t" x="1925" y="727">Lager Feingut</text><text class="t" x="1925.5" y="759">4.250</text><text class="t" x="1925.5" y="773">+0</text></g>
<g id="p4-sammelpunkt"><rect class="box" x="2083" y="708" width="80" height="78"/><rect class="in" x="2094" y="747" width="58" height="39"/><text class="t" x="2123" y="720">Sammelpunkt</text><text class="t" x="2123" y="734">FG zur</text><text class="t" x="2123" y="759">5.390</text><text class="t" x="2123" y="773">+0</text></g>
<g id="p4-rotte"><rect class="box" x="1885" y="906" width="80" height="78"/><rect class="in" x="1895" y="944" width="61" height="40"/><text class="t" x="1925" y="925">Rotte</text><text class="t" x="1925.5" y="957">0</text><text class="t" x="1925.5" y="972">+0</text></g>
<g id="p4-trommelsieb"><rect class="box" x="1885" y="1103" width="80" height="79"/><text class="t" x="1925" y="1135">Mobiles</text><text class="t" x="1925" y="1149">Trommelsieb</text></g>
<g id="p4-feingut-deponie"><rect class="box" x="1885" y="1301" width="80" height="78"/><rect class="in" x="1895" y="1340" width="61" height="39"/><text class="t" x="1925" y="1313">Feingut</text><text class="t" x="1925" y="1328">Deponie</text><text class="t" x="1925.5" y="1353">4.900</text><text class="t" x="1925.5" y="1367">+0</text></g>
<g id="p4-kostenstelle"><rect class="ybox" x="2420" y="1004" width="198" height="79"/><text class="t" x="2519" y="1043">Kostenstelle MBA</text></g>
<g id="p4-kosten-mba"><rect class="pbox" x="2479" y="1241" width="139" height="80"/><rect class="in" x="2489" y="1281" width="118" height="40"/><text class="t" x="2548.5" y="1262">Kosten MBA</text><text class="t" x="2548" y="1293">0</text><text class="t" x="2548" y="1308">+638.000</text></g>
</svg>
